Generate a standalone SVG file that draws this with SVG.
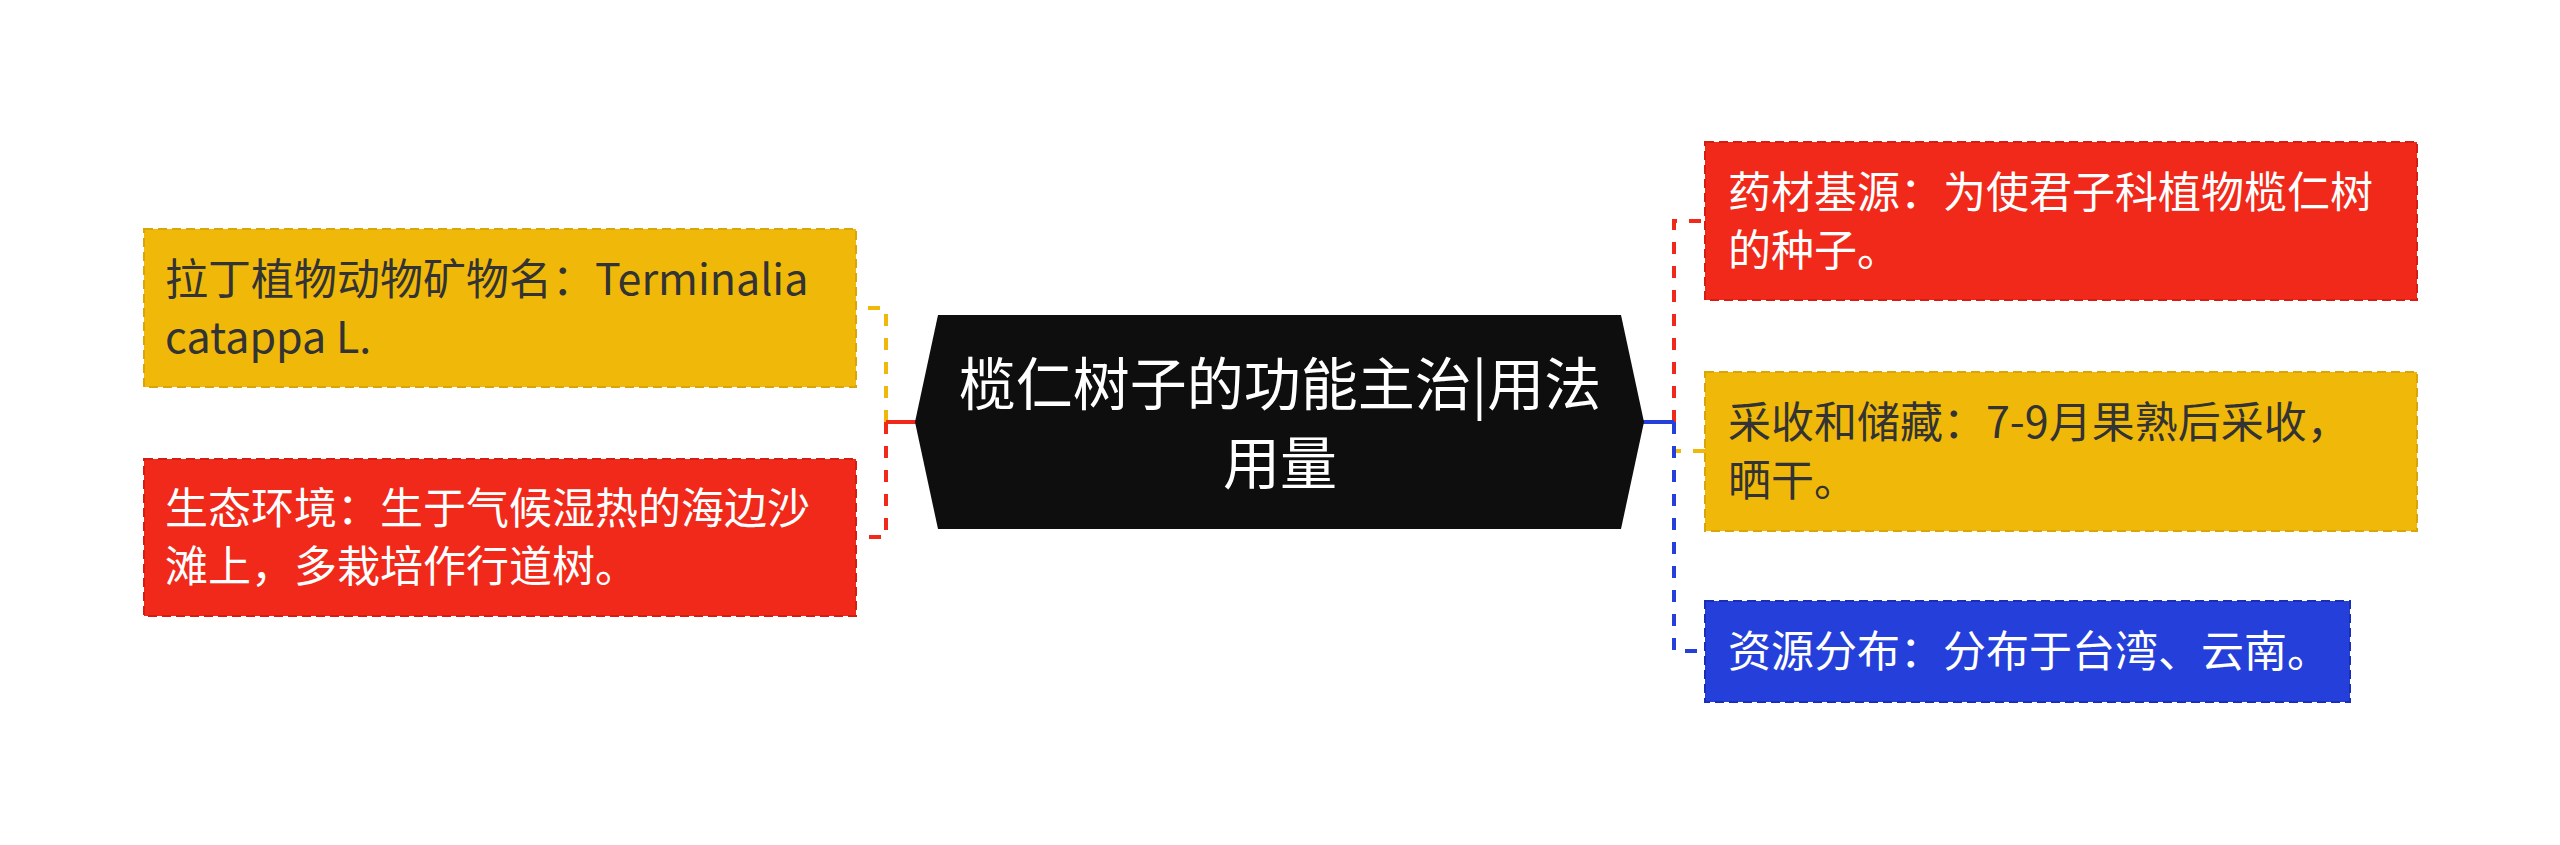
<svg xmlns="http://www.w3.org/2000/svg" width="2560" height="845" viewBox="0 0 2560 845">
<style>
.bg{fill:#ffffff}
.t{font-family:"Noto Sans CJK SC","Noto Sans",sans-serif;font-size:43px}
.tc{font-family:"Noto Sans CJK SC","Noto Sans",sans-serif;font-size:57px;fill:#ffffff;text-anchor:middle}
.dark{fill:#333333}
.light{fill:#ffffff}
.box{stroke-width:2;stroke-dasharray:9 5}
.yel{fill:#F0B90A;stroke:#D9A508}
.red{fill:#F0291A;stroke:#D41E12}
.blu{fill:#2540DA;stroke:#1A2FB5}
.c{fill:none;stroke-width:4;stroke-dasharray:12 12;stroke-dashoffset:18}
.stub{fill:none;stroke-width:4}
</style>
<rect class="bg" x="0" y="0" width="2560" height="845"/>
<g id="connectors">
<path class="c" stroke="#F0B90A" d="M916 422 H886 V308 H856"/>
<path class="c" stroke="#F0291A" d="M916 422 H886 V537 H856"/>
<path class="stub" stroke="#F0291A" d="M917 422 H886"/>
<path class="c" stroke="#F0291A" d="M1644 422 H1674 V221 H1705"/>
<path class="c" stroke="#F0B90A" d="M1644 422 H1674 V451 H1705"/>
<path class="c" stroke="#2540DA" d="M1644 422 H1674 V651 H1705"/>
<path class="stub" stroke="#2540DA" d="M1643 422 H1674"/>
</g>
<g id="center">
<polygon fill="#0E0E0E" points="915,422 938,315 1621,315 1644,422 1621,529 938,529"/>
<text class="tc" x="1280" y="405">榄仁树子的功能主治|用法</text>
<text class="tc" x="1280" y="484">用量</text>
</g>
<g id="latin-name">
<rect class="box yel" x="144" y="229" width="712" height="158"/>
<text class="t dark" x="165" y="295">拉丁植物动物矿物名：Terminalia</text>
<text class="t dark" x="165" y="353">catappa L.</text>
</g>
<g id="ecology">
<rect class="box red" x="144" y="459" width="712" height="157"/>
<text class="t light" x="165" y="524">生态环境：生于气候湿热的海边沙</text>
<text class="t light" x="165" y="582">滩上，多栽培作行道树。</text>
</g>
<g id="source">
<rect class="box red" x="1705" y="142" width="712" height="158"/>
<text class="t light" x="1728" y="208">药材基源：为使君子科植物榄仁树</text>
<text class="t light" x="1728" y="266">的种子。</text>
</g>
<g id="harvest">
<rect class="box yel" x="1705" y="372" width="712" height="159"/>
<text class="t dark" x="1728" y="438">采收和储藏：7-9月果熟后采收，</text>
<text class="t dark" x="1728" y="496">晒干。</text>
</g>
<g id="distribution">
<rect class="box blu" x="1705" y="601" width="645" height="101"/>
<text class="t light" x="1728" y="667">资源分布：分布于台湾、云南。</text>
</g>
</svg>
